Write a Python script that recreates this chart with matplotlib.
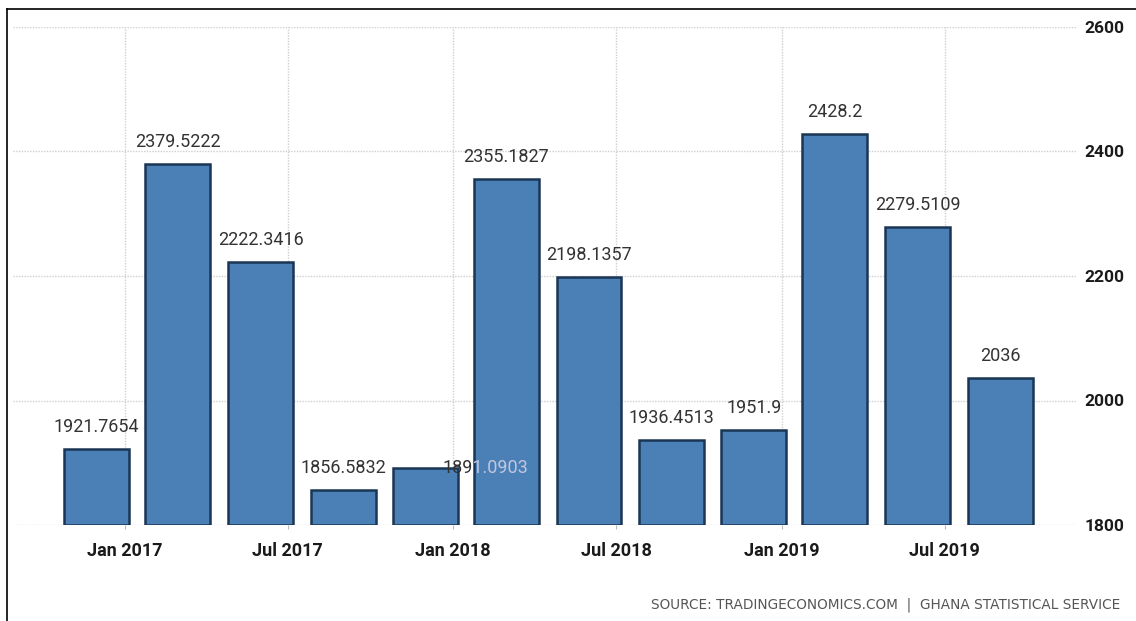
import matplotlib
matplotlib.use("Agg")
import matplotlib.pyplot as plt
import matplotlib.dates as mdates
from matplotlib.lines import Line2D
import numpy as np

# ---- data ----
dates = ["2016-12-01", "2017-03-01", "2017-06-01", "2017-09-01",
         "2017-12-01", "2018-03-01", "2018-06-01", "2018-09-01",
         "2018-12-01", "2019-03-01", "2019-06-01", "2019-09-01"]
values = [1921.7654, 2379.5222, 2222.3416, 1856.5832,
          1891.0903, 2355.1827, 2198.1357, 1936.4513,
          1951.9, 2428.2, 2279.5109, 2036]
labels = ["1921.7654", "2379.5222", "2222.3416", "1856.5832",
          "1891.0903", "2355.1827", "2198.1357", "1936.4513",
          "1951.9", "2428.2", "2279.5109", "2036"]
tick_dates = ["2017-01-01", "2017-07-01", "2018-01-01",
              "2018-07-01", "2019-01-01", "2019-07-01"]
tick_labels = ["Jan 2017", "Jul 2017", "Jan 2018",
               "Jul 2018", "Jan 2019", "Jul 2019"]
y_ticks = [1800, 2000, 2200, 2400, 2600]
source = "SOURCE: TRADINGECONOMICS.COM  |  GHANA STATISTICAL SERVICE"

plt.rcParams['font.family'] = ['Roboto', 'DejaVu Sans']

fig = plt.figure(figsize=(11.36, 6.21), dpi=100)
ax = fig.add_axes([13/1136, 1 - 525/621, (1076 - 13)/1136, 498/621])

x = mdates.date2num(np.array(dates, dtype="datetime64[D]"))
xt = mdates.date2num(np.array(tick_dates, dtype="datetime64[D]"))
x0 = mdates.date2num(np.datetime64("2017-01-01"))

bars = ax.bar(x, np.array(values) - 1800, bottom=1800, width=72,
              color="#4a80b6", edgecolor="#1b3554", linewidth=1.8, zorder=3)

ax.set_xlim(x0 - 124, x0 + 1057)
ax.set_ylim(1800, 2600)

ax.set_xticks(xt)
ax.set_xticklabels(tick_labels, fontsize=13, fontweight="bold", color="#1a1a1a")
ax.yaxis.tick_right()
ax.set_yticks(y_ticks)
ax.set_yticklabels([str(v) for v in y_ticks], fontsize=12.5,
                   fontweight="bold", color="#1a1a1a")
ax.tick_params(axis="y", length=0, pad=6)
ax.tick_params(axis="x", length=3, color="#bbbbbb", pad=9)

ax.grid(True, color="#cfcfcf", linestyle=(0, (1, 1)), linewidth=1, zorder=0)
for s in ax.spines.values():
    s.set_visible(False)

# value labels (one shifted right to avoid overlap, as in the original)
shift = {4: (43, 0)}
for i, (xi, v, lab) in enumerate(zip(x, values, labels)):
    dx, dy = shift.get(i, (0, 15.8))
    ax.annotate(lab, (xi, v), xytext=(dx, dy), textcoords="offset points",
                ha="center", va="center", fontsize=13, color="#333333",
                zorder=4)
    if i == 4:
        # part of this label that runs over the next bar appears faded
        bars[5].set_zorder(5)
        t = ax.annotate(lab, (xi, v), xytext=(dx, dy), textcoords="offset points",
                        ha="center", va="center", fontsize=13, color="#c3c6de",
                        zorder=6)
        t.set_clip_path(bars[5])

fig.text(1120/1136, 1 - 605/621, source, ha="right", va="center",
         fontsize=9.8, color="#555555", family="DejaVu Sans")

# outer frame (top and left edges)
fig.add_artist(Line2D([7/1136, 1], [1 - 9/621, 1 - 9/621],
                      transform=fig.transFigure, color="black", linewidth=1.2))
fig.add_artist(Line2D([7/1136, 7/1136], [0, 1 - 9/621],
                      transform=fig.transFigure, color="black", linewidth=1.2))

fig.savefig("out.png", dpi=100)
